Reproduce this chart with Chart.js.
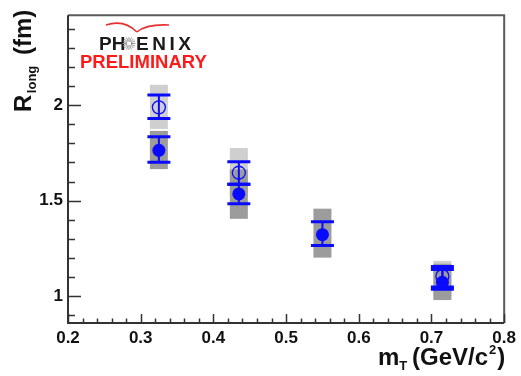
<!DOCTYPE html>
<html>
<head>
<meta charset="utf-8">
<script src="https://cdn.jsdelivr.net/npm/chart.js@4.4.1/dist/chart.umd.min.js"></script>
<style>
  html, body { margin: 0; padding: 0; background: #fff; }
  #wrap { width: 521px; height: 376px; }
</style>
</head>
<body>
<div id="wrap"><canvas id="rlong" width="521" height="376"></canvas></div>
<script>
// open circles (light grey systematic boxes)
const MT_OPEN = [0.325, 0.435, 0.715];
const RLONG_OPEN = [1.988, 1.646, 1.105];
const STAT_OPEN_LO = [1.930, 1.586, 1.036];
const STAT_OPEN_HI = [2.053, 1.703, 1.155];
const SYS_OPEN_LO = [1.875, 1.52, 1.00];
const SYS_OPEN_HI = [2.106, 1.775, 1.185];

// filled circles (dark grey systematic boxes)
const MT_FILL = [0.325, 0.435, 0.55, 0.715];
const RLONG_FILL = [1.763, 1.535, 1.322, 1.073];
const STAT_FILL_LO = [1.701, 1.484, 1.265, 1.048];
const STAT_FILL_HI = [1.834, 1.586, 1.390, 1.140];
const SYS_FILL_LO = [1.665, 1.405, 1.202, 0.980];
const SYS_FILL_HI = [1.865, 1.663, 1.458, 1.170];

// axes
const X_TICKS = [0.2, 0.3, 0.4, 0.5, 0.6, 0.7, 0.8];
const Y_TICKS = [1, 1.5, 2];

const BLUE = '#0a0aff';
const FONT = '"Liberation Sans", Arial, Helvetica, sans-serif';

function pts(xs, ys) {
    return xs.map((x, i) => ({ x: x, y: ys[i] }));
}

// boxes + error bars under the markers
const errorPlugin = {
    id: 'errors',
    beforeDatasetsDraw(chart) {
        const ctx = chart.ctx;
        const sx = chart.scales.x, sy = chart.scales.y;
        const boxHalf = 9, capHalf = 11.5;

        ctx.save();
        ctx.fillStyle = '#cfcfcf';
        MT_OPEN.forEach((m, i) => {
            const x = sx.getPixelForValue(m);
            const t = sy.getPixelForValue(SYS_OPEN_HI[i]), b = sy.getPixelForValue(SYS_OPEN_LO[i]);
            ctx.fillRect(x - boxHalf, t, boxHalf * 2, b - t);
        });
        ctx.fillStyle = '#9c9c9c';
        MT_FILL.forEach((m, i) => {
            const x = sx.getPixelForValue(m);
            const t = sy.getPixelForValue(SYS_FILL_HI[i]), b = sy.getPixelForValue(SYS_FILL_LO[i]);
            ctx.fillRect(x - boxHalf, t, boxHalf * 2, b - t);
        });

        function bars(xs, lo, hi) {
            xs.forEach((m, i) => {
                const x = sx.getPixelForValue(m);
                const t = sy.getPixelForValue(hi[i]), b = sy.getPixelForValue(lo[i]);
                ctx.strokeStyle = BLUE;
                ctx.lineWidth = 2;
                ctx.beginPath();
                ctx.moveTo(x, t); ctx.lineTo(x, b);
                ctx.stroke();
                ctx.lineWidth = 3;
                ctx.beginPath();
                ctx.moveTo(x - capHalf, t); ctx.lineTo(x + capHalf, t);
                ctx.moveTo(x - capHalf, b); ctx.lineTo(x + capHalf, b);
                ctx.stroke();
            });
        }
        bars(MT_OPEN, STAT_OPEN_LO, STAT_OPEN_HI);
        bars(MT_FILL, STAT_FILL_LO, STAT_FILL_HI);
        ctx.restore();
    },
    afterDraw(chart) {
        const ctx = chart.ctx;
        const a = chart.chartArea;
        const sx = chart.scales.x, sy = chart.scales.y;
        ctx.save();

        // frame
        ctx.lineWidth = 2;
        ctx.strokeStyle = '#5a5a5a';
        ctx.beginPath();
        ctx.moveTo(a.left, a.top); ctx.lineTo(a.right, a.top); ctx.lineTo(a.right, a.bottom);
        ctx.stroke();
        ctx.strokeStyle = '#333';
        ctx.beginPath();
        ctx.moveTo(a.left, a.top); ctx.lineTo(a.left, a.bottom); ctx.lineTo(a.right, a.bottom);
        ctx.stroke();

        // inward ticks
        ctx.lineWidth = 1.5;
        ctx.beginPath();
        for (let i = 0; i <= 30; i++) {
            const v = 0.2 + i * 0.02;
            const x = Math.round(sx.getPixelForValue(v)) + 0.5;
            const len = (i % 5 === 0) ? 9 : 4.5;
            ctx.moveTo(x, a.bottom); ctx.lineTo(x, a.bottom - len);
        }
        for (let i = 9; i <= 24; i++) {
            const v = i / 10;
            const y = Math.round(sy.getPixelForValue(v)) + 0.5;
            const len = (i % 5 === 0) ? 13 : 7;
            ctx.moveTo(a.left, y); ctx.lineTo(a.left + len, y);
        }
        ctx.stroke();

        // y title
        ctx.fillStyle = '#111';
        ctx.textBaseline = 'alphabetic';
        ctx.textAlign = 'left';
        ctx.translate(31, 112);
        ctx.rotate(-Math.PI / 2);
        ctx.font = 'bold 24px ' + FONT;
        ctx.fillText('R', 0, 0);
        let w = ctx.measureText('R').width;
        ctx.font = 'bold 13px ' + FONT;
        ctx.fillText('long', w + 1.5, 5);
        ctx.font = 'bold 24px ' + FONT;
        ctx.fillText('(fm)', 57, 0);
        ctx.setTransform(1, 0, 0, 1, 0, 0);

        // x title
        let x = 378;
        ctx.font = 'bold 24px ' + FONT;
        ctx.fillText('m', x, 365);
        x += ctx.measureText('m').width;
        ctx.font = 'bold 13px ' + FONT;
        ctx.fillText('T', x, 370);
        x = 412;
        ctx.font = 'bold 24px ' + FONT;
        ctx.fillText('(GeV/c', x, 365);
        x += ctx.measureText('(GeV/c').width + 1;
        ctx.font = 'bold 13px ' + FONT;
        ctx.fillText('2', x, 354);
        x += ctx.measureText('2').width + 1;
        ctx.font = 'bold 24px ' + FONT;
        ctx.fillText(')', x, 365);

        // PHENIX preliminary label
        ctx.strokeStyle = '#e83030';
        ctx.lineWidth = 1.6;
        ctx.beginPath();
        ctx.moveTo(106, 25);
        ctx.quadraticCurveTo(124, 19, 137, 32);
        ctx.moveTo(137, 32);
        ctx.quadraticCurveTo(146, 24, 169, 25);
        ctx.stroke();

        ctx.fillStyle = '#1a1a1a';
        ctx.font = 'bold 19px ' + FONT;
        ctx.textAlign = 'left';
        ctx.fillText('PH', 99, 50);
        let lx = 136;
        ['E', 'N', 'I', 'X'].forEach(ch => {
            ctx.fillText(ch, lx, 50);
            lx += ctx.measureText(ch).width + 3.5;
        });
        // little sunburst for the O
        ctx.strokeStyle = '#9a9a9a';
        ctx.lineWidth = 1;
        ctx.beginPath();
        for (let k = 0; k < 16; k++) {
            const ang = k * Math.PI / 8;
            ctx.moveTo(129 + Math.cos(ang) * 2, 43.5 + Math.sin(ang) * 2);
            ctx.lineTo(129 + Math.cos(ang) * 6.5, 43.5 + Math.sin(ang) * 6.5);
        }
        ctx.stroke();

        ctx.fillStyle = '#ff1a1a';
        ctx.font = 'bold 18.5px ' + FONT;
        ctx.textAlign = 'left';
        ctx.fillText('PRELIMINARY', 80, 68);
        ctx.restore();
    }
};

const config = {
    type: 'scatter',
    data: {
        datasets: [
            {
                label: 'open',
                data: pts(MT_OPEN, RLONG_OPEN),
                pointStyle: 'circle',
                pointRadius: 6.5,
                borderWidth: 1.3,
                borderColor: BLUE,
                backgroundColor: 'rgba(0,0,0,0)'
            },
            {
                label: 'filled',
                data: pts(MT_FILL, RLONG_FILL),
                pointStyle: 'circle',
                pointRadius: 6.5,
                borderWidth: 0,
                borderColor: BLUE,
                backgroundColor: BLUE
            }
        ]
    },
    options: {
        responsive: false,
        animation: false,
        events: [],
        layout: { padding: { top: 10, right: 11, left: 0, bottom: 0 } },
        plugins: {
            legend: { display: false },
            tooltip: { enabled: false },
            title: { display: false }
        },
        scales: {
            x: {
                type: 'linear',
                min: 0.2,
                max: 0.8,
                grid: { display: false, drawTicks: false },
                border: { display: false },
                afterBuildTicks: s => { s.ticks = X_TICKS.map(v => ({ value: v })); },
                afterFit: s => { s.height = 53; },
                ticks: {
                    padding: 5,
                    maxRotation: 0,
                    color: '#111',
                    font: { family: FONT, size: 17, weight: 'bold' },
                    callback: v => v.toFixed(1)
                }
            },
            y: {
                type: 'linear',
                min: 0.86,
                max: 2.47,
                grid: { display: false, drawTicks: false },
                border: { display: false },
                afterBuildTicks: s => { s.ticks = Y_TICKS.map(v => ({ value: v })); },
                afterFit: s => { s.width = 68; },
                ticks: {
                    padding: 5,
                    color: '#111',
                    font: { family: FONT, size: 17, weight: 'bold' },
                    callback: v => String(v)
                }
            }
        }
    },
    plugins: [errorPlugin]
};

new Chart(document.getElementById('rlong').getContext('2d'), config);
</script>
</body>
</html>
